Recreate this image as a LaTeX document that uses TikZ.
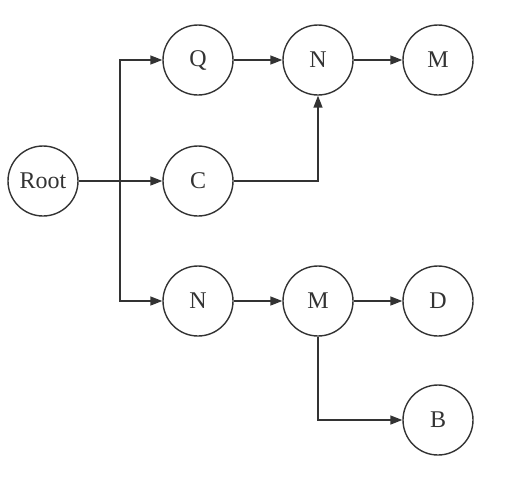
\documentclass[tikz,border=0pt]{standalone}
\usepackage{fontspec}
\setmainfont{Liberation Serif}
\usetikzlibrary{arrows.meta}
\definecolor{ink}{HTML}{333333}
\begin{document}
\begin{tikzpicture}[x=1pt,y=-1pt,
  nd/.style={circle,draw=ink,line width=1.4pt,minimum size=70pt,inner sep=0pt,text=ink,font=\fontsize{24}{26}\selectfont},
  conn/.style={draw=ink,line width=1.5pt,-{Triangle[length=12pt,width=9pt]}}]
\useasboundingbox (0,0) rectangle (513,485);
\node[nd] (root) at (43,181) {Root};
\node[nd] (q) at (198,60) {Q};
\node[nd] (n1) at (318,60) {N};
\node[nd] (m1) at (438,60) {M};
\node[nd] (c) at (198,181) {C};
\node[nd] (n2) at (198,301) {N};
\node[nd] (m2) at (318,301) {M};
\node[nd] (d) at (438,301) {D};
\node[nd] (b) at (438,420) {B};
\coordinate (j) at (120,181);
\draw[conn] (root.east) -- (c.west);
\draw[conn] (j) |- (q.west);
\draw[conn] (j) |- (n2.west);
\draw[conn] (q) -- (n1);
\draw[conn] (n1) -- (m1);
\draw[conn] (c.east) -| (n1.south);
\draw[conn] (n2) -- (m2);
\draw[conn] (m2) -- (d);
\draw[conn] (m2.south) |- (b.west);
\end{tikzpicture}
\end{document}
